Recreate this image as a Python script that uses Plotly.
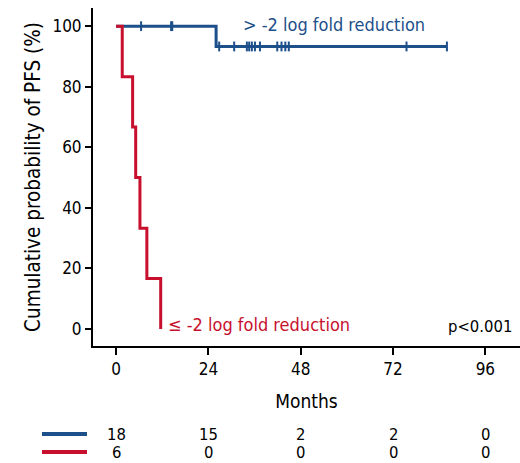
import plotly.graph_objects as go

# Kaplan-Meier step data (months, survival %)
blue_t = [0, 26, 86]
blue_s = [100, 93.3, 93.3]
blue_cens_t = [6.5, 14.3, 14.6, 26.8, 30.7, 34.0, 34.6, 35.3, 36.1, 37.4, 41.9, 43.0, 44.0, 44.9, 75.5, 86]
blue_cens_s = [100, 100, 100, 93.3, 93.3, 93.3, 93.3, 93.3, 93.3, 93.3, 93.3, 93.3, 93.3, 93.3, 93.3, 93.3]

red_t = [0, 1.6, 4.3, 5.1, 6.2, 8.0, 11.6]
red_s = [100, 83.3, 66.7, 50.0, 33.3, 16.7, 0]

tick_months = [0, 24, 48, 72, 96]
risk_blue = [18, 15, 2, 2, 0]
risk_red = [6, 0, 0, 0, 0]

BLUE = "#1d4f8a"
RED = "#c8102e"
FONT = "DejaVu Sans Condensed"

fig = go.Figure()
fig.add_trace(go.Scatter(x=blue_t, y=blue_s, mode="lines", line=dict(color=BLUE, width=3, shape="hv"),
                         showlegend=False))
fig.add_trace(go.Scatter(x=red_t, y=red_s, mode="lines", line=dict(color=RED, width=3, shape="hv"),
                         showlegend=False))
fig.add_trace(go.Scatter(x=blue_cens_t, y=blue_cens_s, mode="markers",
                         marker=dict(symbol="line-ns", size=7, line=dict(color=BLUE, width=2)),
                         showlegend=False))

fig.add_annotation(x=32.5, y=100.5, text="> -2 log fold reduction", showarrow=False, xanchor="left",
                   yanchor="middle", font=dict(color=BLUE, size=18, family=FONT))
fig.add_annotation(x=13, y=1.5, text="≤ -2 log fold reduction", showarrow=False, xanchor="left",
                   yanchor="middle", font=dict(color=RED, size=18, family=FONT))
fig.add_annotation(x=103.5, y=1, text="p<0.001", showarrow=False, xanchor="right",
                   yanchor="middle", font=dict(color="black", size=16.5, family=FONT))

# number-at-risk table
plot_h = 463 - 8 - 117
for row_y, vals, col in [(434, risk_blue, BLUE), (452, risk_red, RED)]:
    yp = (346 - row_y) / plot_h
    for m, v in zip(tick_months, vals):
        fig.add_annotation(x=m, y=yp, xref="x", yref="paper", text=str(v), showarrow=False,
                           xanchor="center", yanchor="middle", borderpad=0,
                           font=dict(color="black", size=16.5, family=FONT))
    fig.add_shape(type="line", xref="paper", yref="paper", x0=(42 - 93) / 427, x1=(87 - 93) / 427,
                  y0=yp, y1=yp, line=dict(color=col, width=4))

fig.update_layout(
    width=520, height=463,
    margin=dict(l=93, r=0, t=8, b=117),
    plot_bgcolor="white", paper_bgcolor="white",
    font=dict(family=FONT, size=17, color="black"),
    xaxis=dict(range=[-6, 105], tickvals=tick_months, showgrid=False, zeroline=False,
               showline=True, linecolor="black", linewidth=2, ticks="outside", ticklen=7,
               tickwidth=2, tickcolor="black", tickfont=dict(size=17),
               title=dict(text="Months", font=dict(size=19), standoff=16)),
    yaxis=dict(range=[-5.6, 106], tickvals=[0, 20, 40, 60, 80, 100], showgrid=False, zeroline=False,
               showline=True, linecolor="black", linewidth=2, ticks="outside", ticklen=6,
               tickwidth=2, tickcolor="black", tickfont=dict(size=17),
               title=dict(text="Cumulative probability of PFS (%)", font=dict(size=20.5), standoff=6)),
)

fig.write_html("out.html")
